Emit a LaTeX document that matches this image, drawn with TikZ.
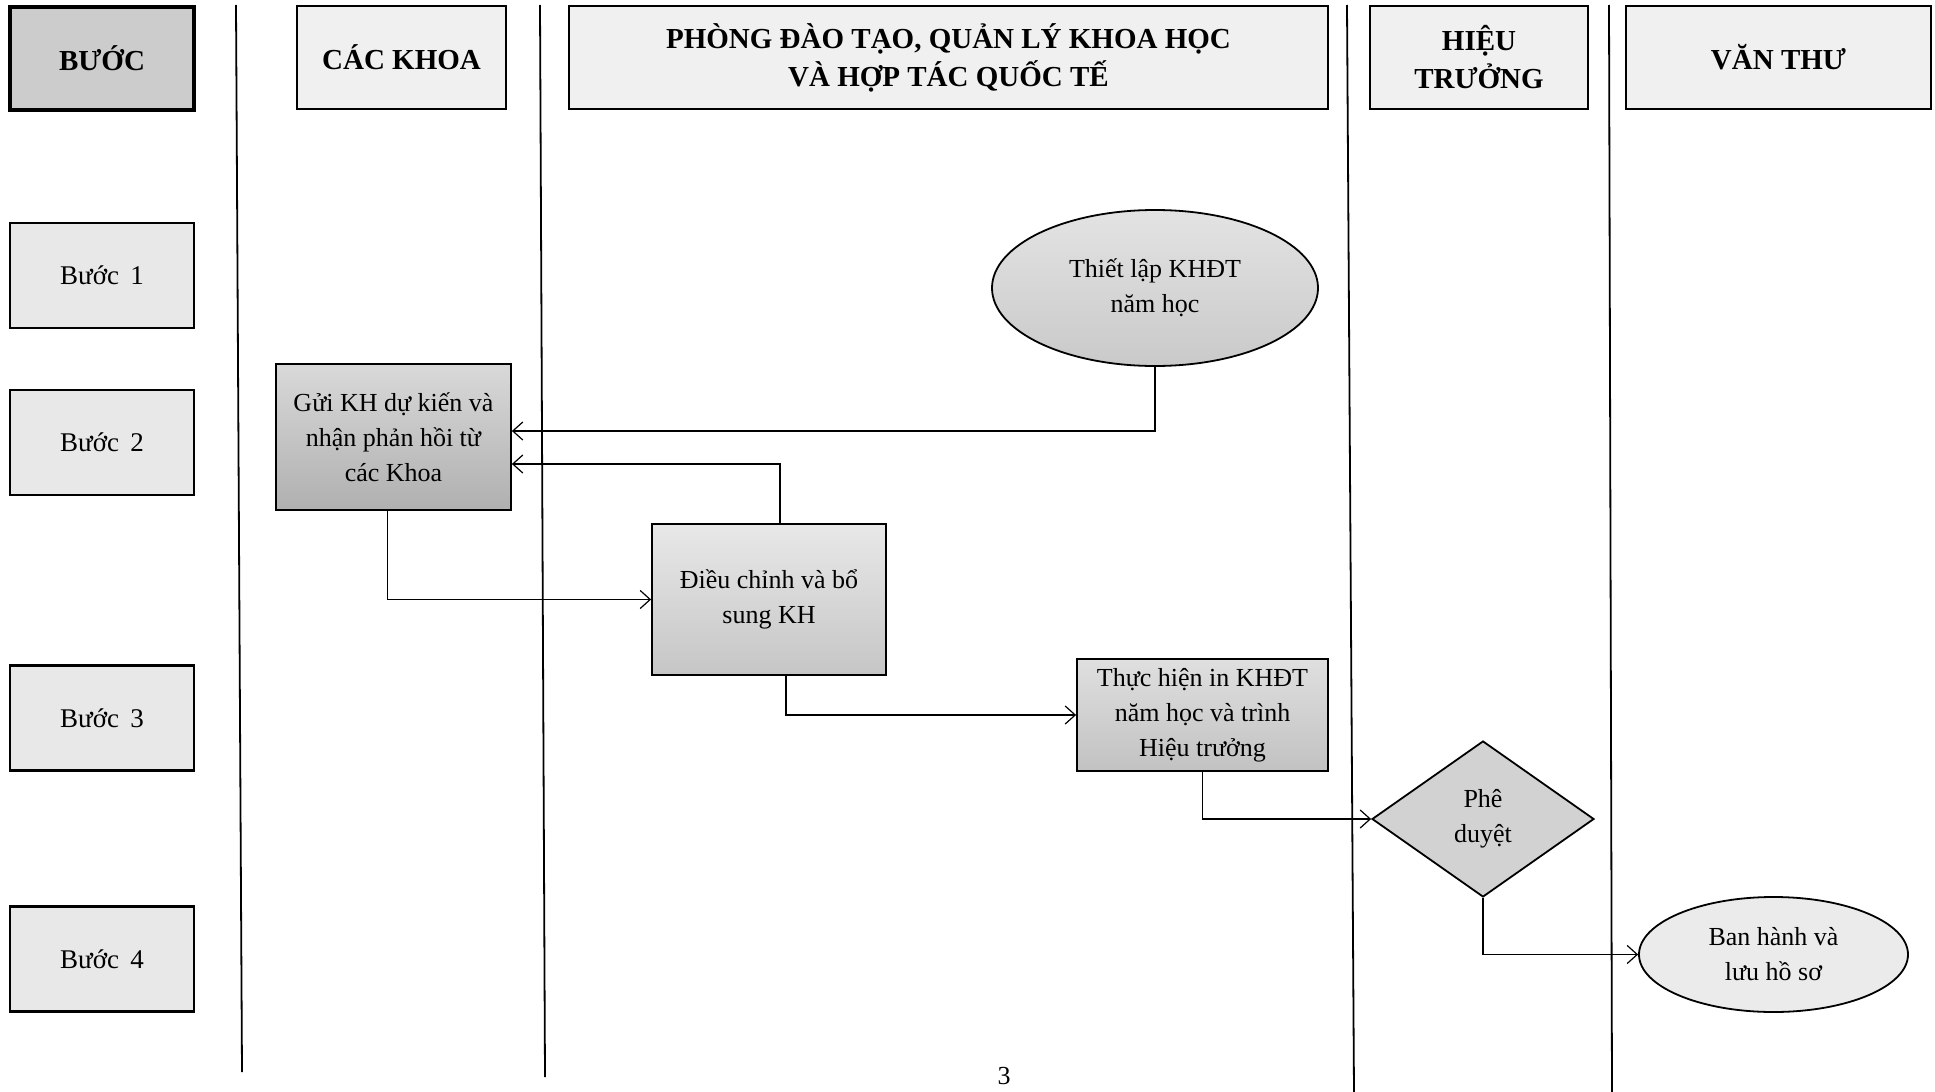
\documentclass[tikz,border=0pt]{standalone}
\usepackage{fontspec}
\setmainfont{Liberation Serif}
\usetikzlibrary{arrows.meta, shapes.geometric}

\begin{document}
\begin{tikzpicture}[x=0.5pt, y=-0.5pt, ->, >={Straight Barb[length=5pt,width=9pt]}, semithick,
  font=\fontsize{13}{17.5}\selectfont,
  lane/.style={-, line width=0.9pt},
  lanehead/.style={draw, line width=1.1pt, fill=gray!12, minimum height=51.5pt, align=center, font=\fontsize{14.5}{19}\selectfont\bfseries},
  stepbox/.style={draw, line width=1.3pt, fill=gray!18, minimum width=92pt, minimum height=52.5pt, font=\fontsize{13.5}{17}\selectfont},
  task/.style={draw, line width=0.9pt, align=center, inner sep=2pt},
  terminal/.style={ellipse, draw, line width=0.9pt, align=center, inner sep=0pt},
  decision/.style={diamond, draw, line width=0.9pt, align=center, inner sep=0pt}]
  \useasboundingbox (0,0) rectangle (1935,1092);

  \draw[lane] (236,5) -- (242,1072);
  \draw[lane] (540,5) -- (545,1077);
  \draw[lane] (1347,5) -- (1354,1092);
  \draw[lane] (1609,5) -- (1612,1092);

  \node[lanehead, minimum width=92pt, fill=gray!40, line width=1.6pt] (buoc) at (102,58.5) {BƯỚC};
  \node[lanehead, minimum width=104.5pt] (khoa) at (401.5,57.5) {CÁC KHOA};
  \node[lanehead, minimum width=379.5pt] (phong) at (948.5,57.5) {PHÒNG ĐÀO TẠO, QUẢN LÝ KHOA HỌC\\VÀ HỢP TÁC QUỐC TẾ};
  \node[lanehead, minimum width=109pt] (hieutruong) at (1479,57.5) {HIỆU\\TRƯỞNG};
  \node[lanehead, minimum width=152.5pt] (vanthu) at (1778.5,57.5) {VĂN THƯ};

  \node[stepbox] (b1) at (102,275.5) {Bước\, 1};
  \node[stepbox] (b2) at (102,442.5) {Bước\, 2};
  \node[stepbox] (b3) at (102,718) {Bước\, 3};
  \node[stepbox] (b4) at (102,959) {Bước\, 4};

  \node[terminal, minimum width=163pt, minimum height=78pt, top color=gray!22, bottom color=gray!42] (thietlap) at (1155,288) {Thiết lập KHĐT\\năm học};
  \node[task, minimum width=117.5pt, minimum height=73pt, top color=gray!30, bottom color=gray!62] (guikh) at (393.5,437) {Gửi KH dự kiến và\\nhận phản hồi từ\\các Khoa};
  \node[task, minimum width=117pt, minimum height=75.5pt, top color=gray!18, bottom color=gray!45] (dieuchinh) at (769,599.5) {Điều chỉnh và bổ\\sung KH};
  \node[task, minimum width=125.5pt, minimum height=56pt, top color=gray!25, bottom color=gray!48] (thuchien) at (1202.5,715) {Thực hiện in KHĐT\\năm học và trình\\Hiệu trưởng};
  \node[decision, minimum width=111pt, minimum height=78pt, fill=gray!35] (pheduyet) at (1483,819) {Phê\\duyệt};
  \node[terminal, minimum width=134.5pt, minimum height=57.5pt, fill=gray!16] (banhanh) at (1773.5,954.5) {Ban hành và\\lưu hồ sơ};

  \draw (thietlap.south) |- ([yshift=3pt]guikh.east);
  \draw ([xshift=5.5pt]dieuchinh.north) |- ([yshift=-13.5pt]guikh.east);
  \draw ([xshift=-3pt]guikh.south) |- (dieuchinh.west);
  \draw ([xshift=8.5pt]dieuchinh.south) |- (thuchien.west);
  \draw (thuchien.south) |- (pheduyet.west);
  \draw (pheduyet.south) |- (banhanh.west);

  \node (pageno) at (1004,1076) {3};
\end{tikzpicture}
\end{document}
